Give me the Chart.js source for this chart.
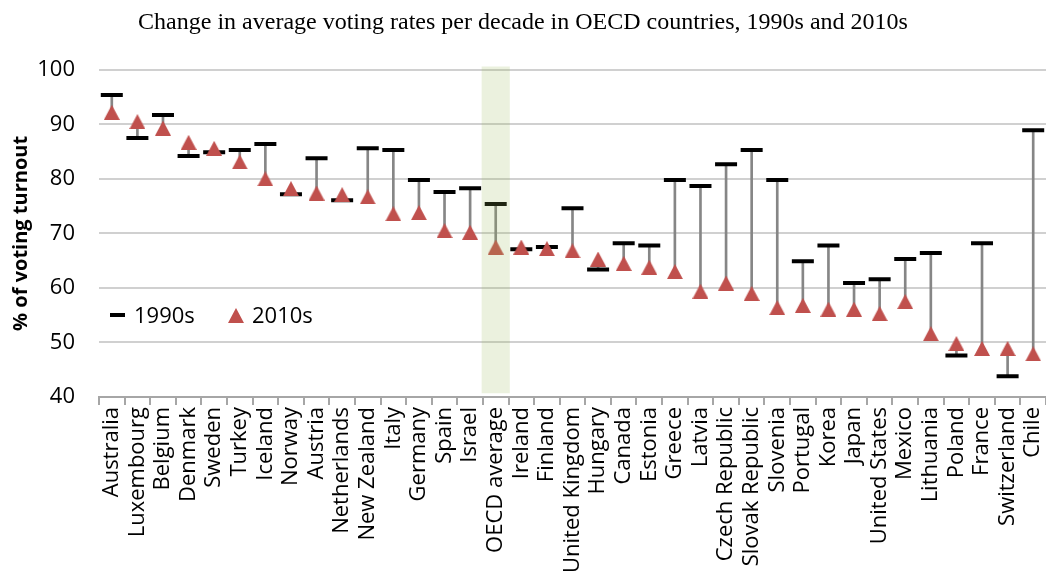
<!DOCTYPE html>
<html lang="en">
<head>
<meta charset="UTF-8">
<title>Voting rates</title>
<style>
  html, body { margin: 0; padding: 0; background: #fff; }
  #wrap { width: 1046px; height: 581px; }
</style>
</head>
<body>
<div id="wrap"><canvas id="myChart"></canvas></div>

<script src="https://cdn.jsdelivr.net/npm/chart.js"></script>
<script>
    const countries = ['Australia', 'Luxembourg', 'Belgium', 'Denmark', 'Sweden', 'Turkey', 'Iceland', 'Norway',
        'Austria', 'Netherlands', 'New Zealand', 'Italy', 'Germany', 'Spain', 'Israel', 'OECD average', 'Ireland',
        'Finland', 'United Kingdom', 'Hungary', 'Canada', 'Estonia', 'Greece', 'Latvia', 'Czech Republic',
        'Slovak Republic', 'Slovenia', 'Portugal', 'Korea', 'Japan', 'United States', 'Mexico', 'Lithuania',
        'Poland', 'France', 'Switzerland', 'Chile'];

    // 1990s average turnout
    const v1990 = [95.4, 87.5, 91.7, 84.2, 84.9, 85.3, 86.4, 77.2, 83.8, 76.1, 85.6, 85.3, 79.8, 77.6, 78.3, 75.4,
        67.1, 67.5, 74.6, 63.4, 68.2, 67.8, 79.8, 78.7, 82.7, 85.3, 79.8, 64.9, 67.8, 60.9, 61.6, 65.3, 66.4, 47.6,
        68.2, 43.8, 88.9];

    // 2010s average turnout
    const v2010 = [92.2, 90.5, 89.3, 86.7, 85.6, 83.1, 80.0, 78.2, 77.4, 77.1, 76.7, 73.6, 73.8, 70.5, 70.2, 67.5,
        67.5, 67.2, 66.8, 65.3, 64.5, 63.8, 63.0, 59.4, 60.9, 59.0, 56.4, 56.8, 56.1, 56.1, 55.3, 57.5, 51.6, 49.8,
        48.9, 48.9, 47.9];

    const yTicks = [40, 50, 60, 70, 80, 90, 100];
    const highlight = 'OECD average';

    // excel-like triangle marker, centred on its box
    function f_triangle(w, h, color) {
        let c = document.createElement('canvas');
        c.width = w;
        c.height = h;
        let g = c.getContext('2d');
        g.fillStyle = color;
        g.beginPath();
        g.moveTo(w / 2, 0);
        g.lineTo(w, h);
        g.lineTo(0, h);
        g.closePath();
        g.fill();
        return c;
    }
    const tri = f_triangle(16, 15, '#c0504d');

    // vertical link between the two decades
    const lowHigh = countries.map((c, i) => [Math.min(v1990[i], v2010[i]), Math.max(v1990[i], v2010[i])]);
    const band = countries.map(c => c === highlight ? [40.7, 100.6] : null);

    // legend sits inside the plot
    const insideLegend = {
        id: 'insideLegend',
        afterDatasetsDraw(chart) {
            const c = chart.ctx;
            c.save();
            c.fillStyle = '#000';
            c.fillRect(110, 313, 15, 4);
            c.drawImage(tri, 228, 308);
            c.font = '22px "Open Sans"';
            c.textBaseline = 'middle';
            c.fillText(chart.data.datasets[2].label, 134, 317);
            c.fillText(chart.data.datasets[3].label, 252, 317);
            c.restore();
        }
    };

    const ctx = document.getElementById('myChart');

    new Chart(ctx, {
        type: 'bar',
        data: {
            labels: countries,
            datasets: [{
                type: 'bar',
                label: 'highlight',
                data: band,
                backgroundColor: 'rgba(155,187,89,0.2)',
                barPercentage: 1,
                categoryPercentage: 1.1,
                grouped: false,
                clip: false,
                order: -1
            },
            {
                type: 'bar',
                label: 'change',
                data: lowHigh,
                backgroundColor: '#868686',
                barThickness: 2,
                grouped: false,
                order: 3
            },
            {
                type: 'line',
                label: '1990s',
                data: v1990,
                showLine: false,
                pointStyle: 'line',
                pointRadius: 11,
                pointBorderWidth: 4,
                pointBorderColor: '#000',
                borderColor: '#000',
                order: 2
            },
            {
                type: 'line',
                label: '2010s',
                data: v2010,
                showLine: false,
                pointStyle: tri,
                pointRadius: 8,
                order: 1
            }]
        },
        options: {
            responsive: true,
            maintainAspectRatio: false,
            animation: false,
            layout: { padding: 0, autoPadding: false },
            plugins: {
                legend: { display: false },
                tooltip: { enabled: false },
                title: {
                    display: true,
                    text: 'Change in average voting rates per decade in OECD countries, 1990s and 2010s',
                    color: '#000',
                    font: { family: 'Liberation Serif', size: 24, weight: 'normal' },
                    padding: { top: 8, bottom: 33 }
                }
            },
            scales: {
                x: {
                    grid: { offset: true, drawOnChartArea: false, color: '#a6a6a6', lineWidth: 2, tickLength: 8 },
                    border: { color: '#a6a6a6', width: 2 },
                    ticks: {
                        autoSkip: false,
                        maxRotation: 90,
                        minRotation: 90,
                        padding: 2,
                        color: '#000',
                        font: { family: 'Open Sans', size: 22 }
                    },
                    afterFit: s => {
                        s.height = 184;
                        s.paddingLeft = 0;
                        s.paddingRight = 0;
                    }
                },
                y: {
                    min: 40,
                    max: 100,
                    afterBuildTicks: s => { s.ticks = yTicks.map(v => ({ value: v })); },
                    grid: { color: '#d0d0d0', lineWidth: 2, drawTicks: false },
                    border: { display: false },
                    ticks: { padding: 24, color: '#000', font: { family: 'Open Sans', size: 22 } },
                    title: {
                        display: true,
                        text: '% of voting turnout',
                        color: '#000',
                        font: { family: 'Open Sans', size: 20, weight: 'bold' },
                        padding: { top: 9, bottom: 0 }
                    },
                    afterFit: s => { s.width = 99; }
                }
            }
        },
        plugins: [insideLegend]
    });
</script>
</body>
</html>
